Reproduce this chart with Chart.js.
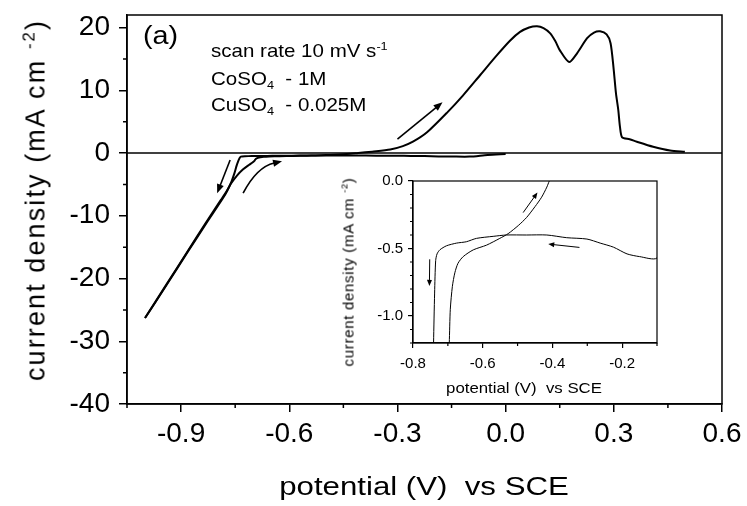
<!DOCTYPE html>
<html><head><meta charset="utf-8">
<script src="https://cdn.jsdelivr.net/npm/chart.js@4.4.1/dist/chart.umd.min.js"></script>
<style>
html,body{margin:0;padding:0;background:#fff;}
#wrap{position:relative;width:747px;height:506px;overflow:hidden;font-family:"Liberation Sans",Arial,sans-serif;color:#000;background:#fff;}
#main{position:absolute;left:0;top:0;}
#inset{position:absolute;left:335px;top:165px;}
.t{position:absolute;white-space:nowrap;line-height:1;}
.t sup{font-size:0.62em;vertical-align:0.62em;line-height:0;}
.t sub{font-size:0.62em;vertical-align:-0.3em;line-height:0;}
</style></head><body>
<div id="wrap">
<canvas id="main" width="747" height="506"></canvas>
<canvas id="inset" width="330" height="235"></canvas>
<div class="t" id="ytitle" style="font-size:27px;letter-spacing:2.1px;left:36px;top:200px;transform:translate(-50%,-50%) rotate(-90deg);">current density (mA cm <sup>-2</sup>)</div>
<div class="t" id="xtitle" style="font-size:26px;left:424px;top:473px;transform:translateX(-50%) scaleX(1.2);">potential (V)&nbsp; vs SCE</div>
<div class="t" style="font-size:25px;left:143px;top:23px;transform-origin:left top;transform:scaleX(1.15);">(a)</div>
<div class="t" style="font-size:19px;left:211px;top:41px;transform-origin:left top;transform:scaleX(1.08);">scan rate 10 mV s<sup>-1</sup></div>
<div class="t" style="font-size:19px;left:211px;top:69px;transform-origin:left top;transform:scaleX(1.08);">CoSO<sub>4</sub>&nbsp; - 1M</div>
<div class="t" style="font-size:19px;left:211px;top:95px;transform-origin:left top;transform:scaleX(1.08);">CuSO<sub>4</sub>&nbsp; - 0.025M</div>
<div class="t" style="font-size:15px;letter-spacing:0.7px;left:347.5px;top:272px;transform:translate(-50%,-50%) rotate(-90deg);">current density (mA cm <sup>-2</sup>)</div>
<div class="t" style="font-size:15px;left:524px;top:379.5px;transform:translateX(-50%) scaleX(1.12);">potential (V)&nbsp; vs SCE</div>
</div>
<script>
// ---- data ----
// cathodic sweep: from ~0.0 V down to -1.0 V
const cathodicV = [0.0,-0.05,-0.1,-0.15,-0.186,-0.225,-0.263,-0.301,-0.359,-0.416,-0.474,-0.532,-0.57,-0.618,-0.647,-0.675,-0.704,-0.723,-0.731,-0.735,-0.738,-0.741,-0.746,-0.752,-0.76,-0.772,-0.785,-0.83,-0.88,-0.94,-1.0];
const cathodicJ = [-0.15,-0.3,-0.57,-0.56,-0.54,-0.49,-0.46,-0.43,-0.42,-0.40,-0.40,-0.40,-0.41,-0.425,-0.45,-0.46,-0.48,-0.51,-0.54,-0.59,-0.83,-1.2,-2.0,-3.2,-4.5,-6.0,-7.3,-11.2,-15.6,-21.0,-26.3];
// anodic (return) sweep: from -1.0 V up to 0.5 V
const anodicV = [-1.0,-0.94,-0.88,-0.83,-0.79,-0.775,-0.762,-0.745,-0.728,-0.712,-0.702,-0.696,-0.693,-0.687,-0.68,-0.671,-0.656,-0.627,-0.589,-0.551,-0.527,-0.498,-0.474,-0.45,-0.431,-0.416,-0.409,-0.37,-0.32,-0.285,-0.257,-0.218,-0.163,-0.118,-0.071,-0.024,0.012,0.04,0.065,0.087,0.105,0.123,0.138,0.15,0.176,0.198,0.226,0.245,0.262,0.28,0.291,0.299,0.306,0.3125,0.317,0.323,0.344,0.364,0.409,0.456,0.497];
const anodicJ = [-26.3,-20.9,-15.5,-11.0,-7.5,-6.2,-4.9,-3.6,-2.6,-1.9,-1.5,-1.2,-0.95,-0.78,-0.68,-0.61,-0.56,-0.51,-0.475,-0.425,-0.39,-0.33,-0.27,-0.19,-0.12,-0.045,0,0.22,0.55,1.1,1.8,3.3,6.4,9.2,12.4,15.6,17.9,19.3,20.0,20.2,19.9,19.1,17.8,16.4,14.5,15.9,18.3,19.2,19.4,18.9,17.5,13.7,9.5,6.8,4.2,2.5,2.2,1.8,1.0,0.4,0.2];

// tick values
const mainXTicks = [-0.9,-0.6,-0.3,0,0.3,0.6];
const mainXMinor = [-1.05,-0.75,-0.45,-0.15,0.15,0.45];
const mainYTicks = [-40,-30,-20,-10,0,10,20];
const mainYMinor = [-35,-25,-15,-5,5,15];
const insetXTicks = [-0.8,-0.6,-0.4,-0.2];
const insetXMinor = [-0.7,-0.5,-0.3,-0.1];
const insetYTicks = [-1.0,-0.5,0];
const insetYMinor = [-1.2,-1.1,-0.9,-0.8,-0.7,-0.6,-0.4,-0.3,-0.2,-0.1];

// sweep-direction arrows (data coordinates)
const mainArrows = [
  {from:[-0.30,2.2], to:[-0.175,8.1]},
  {from:[-0.764,-1.1], to:[-0.80,-6.4]},
  {from:[-0.728,-6.4], via:[-0.69,-2.2], to:[-0.62,-1.3]}
];
const insetArrows = [
  {from:[-0.484,-0.234], to:[-0.443,-0.086]},
  {from:[-0.3225,-0.492], to:[-0.412,-0.467]},
  {from:[-0.752,-0.58], to:[-0.753,-0.777]}
];

const FONT = '"Liberation Sans", Arial, sans-serif';
const pts = (xs, ys) => xs.map((v,i)=>({x:v, y:ys[i]}));

const framePlugin = {
  id:'frame',
  beforeDatasetsDraw(chart, args, o){
    if(!o.zeroLine) return;
    const {ctx, chartArea:a, scales:{y}} = chart;
    ctx.save();
    ctx.strokeStyle='#000'; ctx.lineWidth=o.zeroWidth;
    const py = y.getPixelForValue(0);
    ctx.beginPath(); ctx.moveTo(a.left,py); ctx.lineTo(a.right,py); ctx.stroke();
    ctx.restore();
  },
  afterDatasetsDraw(chart, args, o){
    const {ctx, chartArea:a, scales:{x,y}} = chart;
    ctx.save();
    ctx.strokeStyle='#000'; ctx.fillStyle='#000';
    ctx.lineWidth=o.boxWidth;
    ctx.strokeRect(a.left,a.top,a.right-a.left,a.bottom-a.top);
    ctx.lineWidth=o.tickWidth;
    ctx.beginPath();
    o.xMinor.forEach(v=>{const px=x.getPixelForValue(v); ctx.moveTo(px,a.bottom); ctx.lineTo(px,a.bottom+o.minorLen);});
    o.yMinor.forEach(v=>{const py=y.getPixelForValue(v); ctx.moveTo(a.left,py); ctx.lineTo(a.left-o.minorLen,py);});
    ctx.stroke();
    ctx.lineWidth=o.arrowWidth;
    o.arrows.forEach(ar=>{
      const p0=[x.getPixelForValue(ar.from[0]), y.getPixelForValue(ar.from[1])];
      const p2=[x.getPixelForValue(ar.to[0]), y.getPixelForValue(ar.to[1])];
      const p1=ar.via?[x.getPixelForValue(ar.via[0]), y.getPixelForValue(ar.via[1])]:null;
      const ref=p1||p0;
      let dx=p2[0]-ref[0], dy=p2[1]-ref[1]; const d=Math.hypot(dx,dy); dx/=d; dy/=d;
      const L=o.headLen, W=o.headW;
      const b=[p2[0]-dx*L, p2[1]-dy*L];
      ctx.beginPath(); ctx.moveTo(p0[0],p0[1]);
      if(p1) ctx.quadraticCurveTo(p1[0],p1[1],b[0]+dx*1,b[1]+dy*1); else ctx.lineTo(b[0]+dx*1,b[1]+dy*1);
      ctx.stroke();
      ctx.beginPath(); ctx.moveTo(p2[0],p2[1]);
      ctx.lineTo(b[0]-dy*W,b[1]+dx*W); ctx.lineTo(b[0]+dy*W,b[1]-dx*W); ctx.closePath(); ctx.fill();
    });
    ctx.restore();
  }
};

function axis(min,max,ticks,size,pad,tickLen,fmt,fitProp,fitVal,bw){
  return {
    type:'linear', min:min, max:max,
    afterBuildTicks:s=>{s.ticks=ticks.map(v=>({value:v}));},
    afterFit:s=>{s[fitProp]=fitVal; s.paddingTop=0; s.paddingBottom=0; s.paddingLeft=0; s.paddingRight=0;},
    ticks:{callback:v=>fmt(v), font:{family:FONT,size:size}, color:'#000', padding:pad, autoSkip:false, maxRotation:0, minRotation:0},
    grid:{drawOnChartArea:false, drawTicks:true, tickLength:tickLen, color:'#000', tickColor:'#000', tickWidth:bw, lineWidth:bw},
    border:{display:true, color:'#000', width:bw}
  };
}
const f1 = v=>Number(v).toFixed(1);
const f0 = v=>String(Math.round(v));

function datasets(bw){
  return [
    {label:'cathodic sweep', data:pts(cathodicV,cathodicJ), showLine:true, borderColor:'#000', borderWidth:bw, pointRadius:0, tension:0.25, fill:false},
    {label:'anodic sweep', data:pts(anodicV,anodicJ), showLine:true, borderColor:'#000', borderWidth:bw, pointRadius:0, tension:0.25, fill:false}
  ];
}

new Chart(document.getElementById('main'), {
  type:'scatter',
  data:{datasets:datasets(2)},
  options:{
    responsive:false, animation:false, devicePixelRatio:1,
    layout:{padding:{top:15,right:25,left:0,bottom:0}},
    plugins:{legend:{display:false}, tooltip:{enabled:false},
      frame:{zeroLine:true, zeroWidth:1.5, boxWidth:1.5, tickWidth:1.5, minorLen:4, xMinor:mainXMinor, yMinor:mainYMinor, arrows:mainArrows, arrowWidth:1.6, headLen:9, headW:3.6}},
    scales:{
      x:axis(-1.05,0.6,mainXTicks,28,5,8,f1,'height',102,1.5),
      y:axis(-40,22,mainYTicks,28,9,8,f0,'width',127,1.5)
    }
  },
  plugins:[framePlugin]
});

new Chart(document.getElementById('inset'), {
  type:'scatter',
  data:{datasets:datasets(1)},
  options:{
    responsive:false, animation:false, devicePixelRatio:1,
    layout:{padding:{top:16,right:8,left:0,bottom:0}},
    plugins:{legend:{display:false}, tooltip:{enabled:false},
      frame:{zeroLine:false, boxWidth:1.2, tickWidth:1.2, minorLen:3, xMinor:insetXMinor, yMinor:insetYMinor, arrows:insetArrows, arrowWidth:1, headLen:6, headW:2.5}},
    scales:{
      x:axis(-0.8,-0.1,insetXTicks,15,7,5,f1,'height',57,1.2),
      y:axis(-1.2,0,insetYTicks,15,5,5,f1,'width',78,1.2)
    }
  },
  plugins:[framePlugin]
});
</script>
</body></html>
